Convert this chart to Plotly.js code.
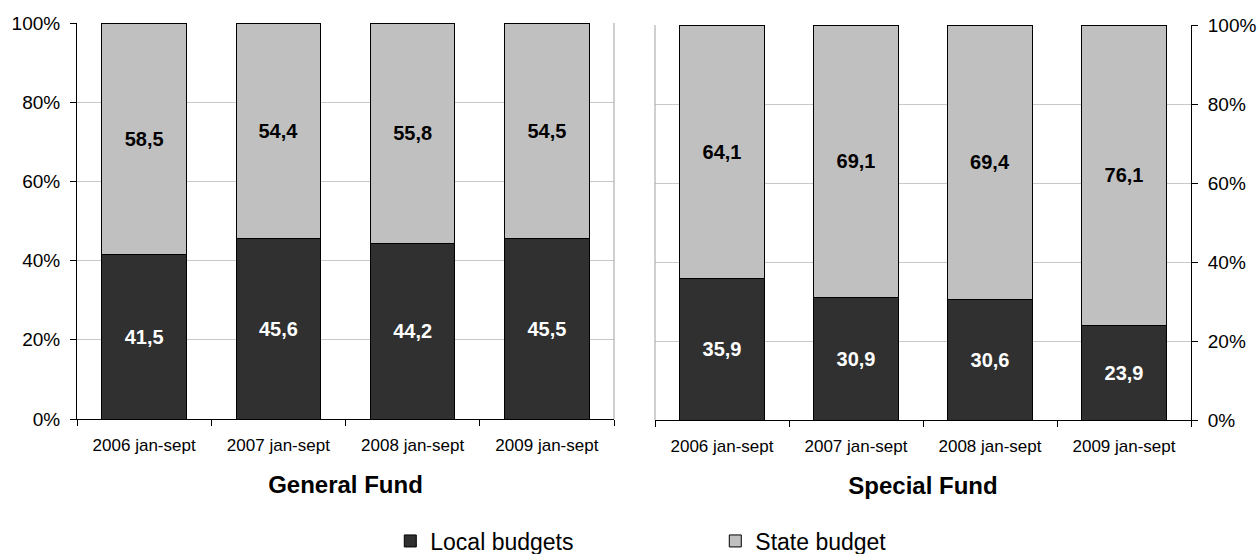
<!DOCTYPE html>
<html>
<head>
<meta charset="utf-8">
<script src="https://cdn.plot.ly/plotly-3.0.1.min.js"></script>
<style>html,body{margin:0;padding:0;background:#fff}#chart{width:1259px;height:554px}</style>
</head>
<body>
<div id="chart"></div>
<script>
const categories = ["2006 jan-sept", "2007 jan-sept", "2008 jan-sept", "2009 jan-sept"];
const generalLocal = [41.5, 45.6, 44.2, 45.5];
const generalState = [58.5, 54.4, 55.8, 54.5];
const specialLocal = [35.9, 30.9, 30.6, 23.9];
const specialState = [64.1, 69.1, 69.4, 76.1];
const seriesNames = ["Local budgets", "State budget"];
const panelTitles = ["General Fund", "Special Fund"];

const FONT = "Liberation Sans";
const DARK = "#303030", LIGHT = "#c0c0c0";

function barTrace(y, name, color, textColor, xa, ya, showlegend) {
  return {
    type: "bar", x: categories, y: y, name: name, xaxis: xa, yaxis: ya,
    legendgroup: name, showlegend: showlegend,
    marker: {color: color, line: {color: "#000", width: 1}},
    texttemplate: "%{y:.1f}", textposition: "inside", insidetextanchor: "middle",
    textangle: 0, constraintext: "none",
    textfont: {family: FONT, size: 20, color: textColor, weight: "bold"},
    hoverinfo: "skip"
  };
}

const data = [
  barTrace(generalLocal, seriesNames[0], DARK, "#fff", "x", "y", true),
  barTrace(generalState, seriesNames[1], LIGHT, "#000", "x", "y", true),
  barTrace(specialLocal, seriesNames[0], DARK, "#fff", "x2", "y2", false),
  barTrace(specialState, seriesNames[1], LIGHT, "#000", "x2", "y2", false)
];

const xBase = {
  type: "category", showline: true, linecolor: "#000", linewidth: 1,
  ticks: "outside", tickson: "boundaries", ticklen: 6, tickcolor: "#000",
  ticklabelstandoff: 11,
  tickfont: {family: FONT, size: 17, color: "#000"}, showgrid: false,
  fixedrange: true
};
const yBase = {
  range: [0, 100], tickmode: "linear", tick0: 0, dtick: 20, ticksuffix: "%",
  showline: true, linecolor: "#000", linewidth: 1,
  ticks: "outside", ticklen: 6, tickcolor: "#000", ticklabelstandoff: 6,
  tickfont: {family: FONT, size: 19, color: "#000"},
  showgrid: true, gridcolor: "#c8c8c8", gridwidth: 1, zeroline: false,
  fixedrange: true
};
const titleFont = {family: FONT, size: 24, color: "#000", weight: "bold"};

const layout = {
  width: 1259, height: 554,
  margin: {l: 0, r: 0, t: 0, b: 0, autoexpand: false},
  paper_bgcolor: "#fff", plot_bgcolor: "#fff",
  barmode: "stack", bargap: 0.37,
  separators: ", ",
  font: {family: FONT, color: "#000"},
  xaxis: Object.assign({}, xBase, {domain: [77/1259, 614/1259], anchor: "y",
    title: {text: panelTitles[0], font: titleFont, standoff: 21}}),
  yaxis: Object.assign({}, yBase, {domain: [1 - 419/554, 1 - 23/554], anchor: "x", side: "left"}),
  xaxis2: Object.assign({}, xBase, {domain: [655/1259, 1191/1259], anchor: "y2",
    title: {text: panelTitles[1], font: titleFont, standoff: 21}}),
  yaxis2: Object.assign({}, yBase, {domain: [1 - 420/554, 1 - 25/554], anchor: "x2", side: "right"}),
  shapes: [
    {type: "line", xref: "x domain", yref: "y domain", x0: 1, x1: 1, y0: 0, y1: 1, line: {color: "#a0a0a0", width: 1}},
    {type: "line", xref: "x2 domain", yref: "y2 domain", x0: 0, x1: 0, y0: 0, y1: 1, line: {color: "#a0a0a0", width: 1}}
  ],
  showlegend: true,
  legend: {orientation: "h", x: 0.31, xanchor: "left", y: 1 - 541/554, yanchor: "middle",
    entrywidth: 280, entrywidthmode: "pixels", traceorder: "normal",
    font: {family: FONT, size: 23, color: "#000"}, bgcolor: "rgba(0,0,0,0)"}
};

Plotly.newPlot("chart", data, layout, {displayModeBar: false, staticPlot: true});
</script>
</body>
</html>
